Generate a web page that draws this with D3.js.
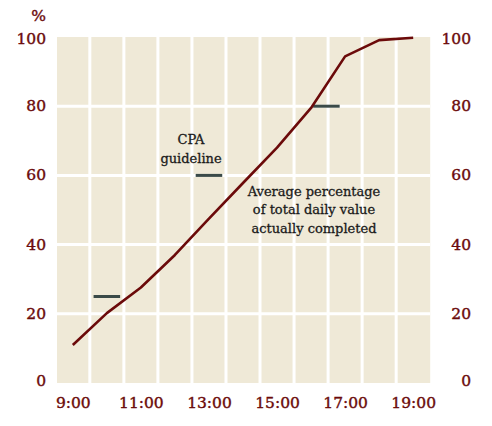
<!DOCTYPE html>
<html>
<head>
<meta charset="utf-8">
<script src="https://cdn.jsdelivr.net/npm/d3@7"></script>
<style>
  body { margin: 0; background: #fff; }
  text { font-family: "DejaVu Serif", serif; }
</style>
</head>
<body>
<div id="chart"></div>
<script>
// hours of the day and average % of daily value completed
const hours = [9, 10, 11, 12, 13, 14, 15, 16, 17, 18, 19];
const completed = [11, 20.2, 27.6, 37, 47.5, 57.8, 68, 79.5, 94.4, 99.1, 99.8];

// CPA guideline markers: centre hour and value
const guideHours = [10, 13, 16.45];
const guideValues = [25, 60, 80];

const xTicks = [9, 11, 13, 15, 17, 19];
const yTicks = [0, 20, 40, 60, 80, 100];

const width = 492, height = 426;
const red = "#6b0a0a";

const svg = d3.select("#chart")
  .append("svg")
  .attr("width", width)
  .attr("height", height);

const x = d3.scaleLinear().domain([8.5, 19.5]).range([55.8, 430.2]);
const y = d3.scaleLinear().domain([0, 100]).range([383, 37]);

// beige panel
svg.append("rect")
  .attr("x", 57)
  .attr("y", y(100))
  .attr("width", x(19.5) - 57)
  .attr("height", y(0) - y(100))
  .attr("fill", "#efe9d7");

// white grid
svg.append("g")
  .selectAll("line")
  .data(d3.range(9.5, 19, 1))
  .enter()
  .append("line")
  .attr("x1", d => x(d))
  .attr("x2", d => x(d))
  .attr("y1", y(100))
  .attr("y2", y(0))
  .attr("stroke", "#fff")
  .attr("stroke-width", 3);

svg.append("g")
  .selectAll("line")
  .data([20, 40, 60, 80])
  .enter()
  .append("line")
  .attr("x1", 57)
  .attr("x2", x(19.5))
  .attr("y1", d => y(d))
  .attr("y2", d => y(d))
  .attr("stroke", "#fff")
  .attr("stroke-width", 3);

// guideline markers
svg.append("g")
  .selectAll("line")
  .data(guideHours)
  .enter()
  .append("line")
  .attr("x1", d => x(d - 0.39))
  .attr("x2", d => x(d + 0.39))
  .attr("y1", (d, i) => y(guideValues[i]))
  .attr("y2", (d, i) => y(guideValues[i]))
  .attr("stroke", "#3a4a48")
  .attr("stroke-width", 3);

// completion line
const line = d3.line()
  .x((d, i) => x(hours[i]))
  .y(d => y(d));

svg.append("path")
  .datum(completed)
  .attr("d", line)
  .attr("fill", "none")
  .attr("stroke", red)
  .attr("stroke-width", 2.6)
  .attr("stroke-linejoin", "round");

// axes (labels only)
const fmtHour = d => d + ":00";

const xAxis = svg.append("g")
  .attr("transform", "translate(0," + 408 + ")")
  .call(d3.axisBottom(x).tickValues(xTicks).tickFormat(fmtHour).tickSize(0).tickPadding(0));

const yLeft = svg.append("g")
  .attr("transform", "translate(46,0)")
  .call(d3.axisLeft(y).tickValues(yTicks).tickSize(0).tickPadding(0));

const yRight = svg.append("g")
  .attr("transform", "translate(471,0)")
  .call(d3.axisLeft(y).tickValues(yTicks).tickSize(0).tickPadding(0));

[xAxis, yLeft, yRight].forEach(function (g) {
  g.select(".domain").remove();
  g.selectAll("text")
    .attr("fill", red)
    .attr("stroke", red)
    .attr("stroke-width", 0.4)
    .style("font-size", "15.5px")
    .style("font-family", "DejaVu Serif");
});
xAxis.selectAll("text").attr("dy", 0);
[yLeft, yRight].forEach(function (g) {
  g.selectAll("text").attr("dy", "0.36em")
    .attr("y", d => d === 100 ? 1 : d === 0 ? -3 : -1);
});

svg.append("text")
  .attr("x", 46)
  .attr("y", 21)
  .attr("text-anchor", "end")
  .attr("fill", red)
  .attr("stroke", red)
  .attr("stroke-width", 0.4)
  .style("font-size", "15.5px")
  .text("%");

// annotations
svg.append("text")
  .attr("text-anchor", "middle")
  .attr("fill", "#1a1a1a")
  .attr("stroke", "#1a1a1a")
  .attr("stroke-width", 0.3)
  .style("font-size", "13px")
  .selectAll("tspan")
  .data(["CPA", "guideline"])
  .enter()
  .append("tspan")
  .attr("x", 191)
  .attr("y", (d, i) => 144 + i * 19)
  .text(d => d);

svg.append("text")
  .attr("text-anchor", "middle")
  .attr("fill", "#1a1a1a")
  .attr("stroke", "#1a1a1a")
  .attr("stroke-width", 0.3)
  .style("font-size", "13px")
  .selectAll("tspan")
  .data(["Average percentage", "of total daily value", "actually completed"])
  .enter()
  .append("tspan")
  .attr("x", 314)
  .attr("y", (d, i) => 196 + i * 18.3)
  .text(d => d);
</script>
</body>
</html>
